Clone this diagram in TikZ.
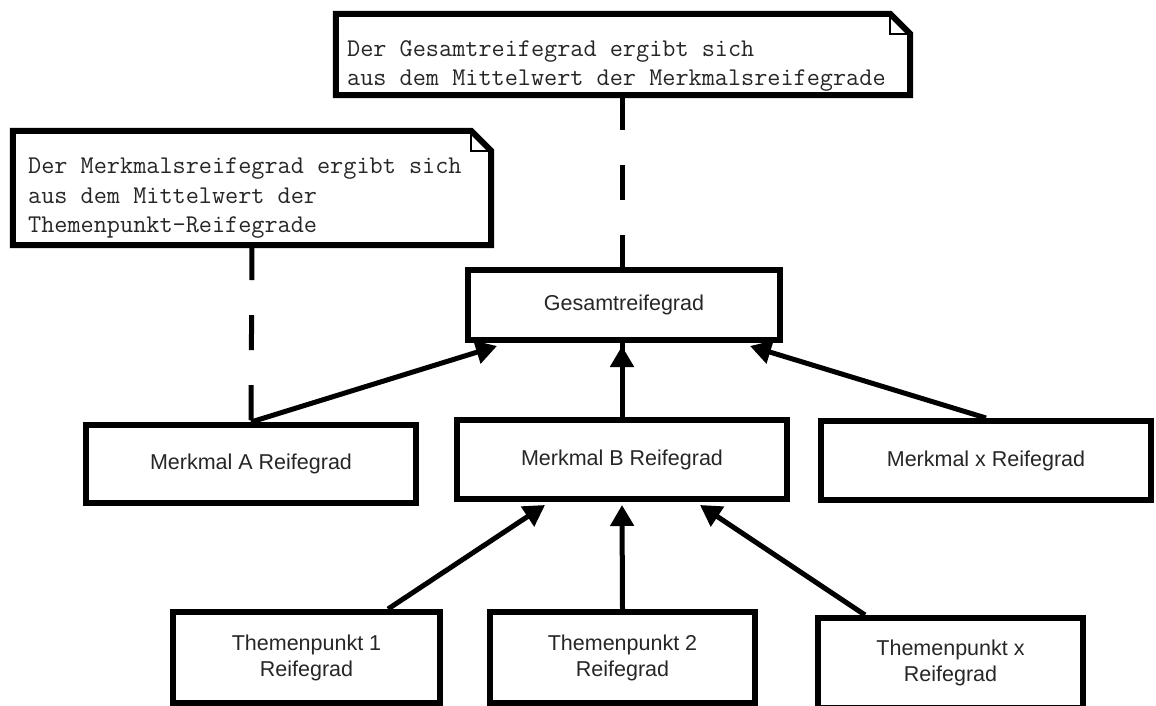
\documentclass[tikz,border=0pt]{standalone}
\usepackage{fontspec}
\setmainfont{Liberation Sans}
\usetikzlibrary{arrows.meta,calc}

\begin{document}
\begin{tikzpicture}[
  x=1pt, y=-1pt,
  box/.style={draw, line width=6pt, inner sep=0pt, align=center, text=black!85,
              font=\fontsize{21.5}{26}\selectfont},
  notebox/.style={inner sep=0pt},
  notebd/.style={line width=6pt, line join=miter},
  fold/.style={line width=2pt},
  notetxt/.style={anchor=north west, inner sep=0pt, align=left, text=black!85,
                  font=\ttfamily\fontsize{25.5}{29.5}\selectfont},
  arr/.style={line width=5pt, -{Triangle[length=21pt, width=23pt]}},
  dsh/.style={line width=5pt, dash pattern=on 35pt off 35pt}
]
\useasboundingbox (0,0) rectangle (1156,706);

% notes
\node[notebox, minimum width=574, minimum height=81] (n1) at (623,54.5) {};
\node[notebox, minimum width=478, minimum height=114] (n2) at (252,188) {};
\foreach \n in {n1, n2} {
  \draw[notebd] (\n.south west) -- (\n.north west) -- ($(\n.north east)+(-20,0)$)
    -- ($(\n.north east)+(0,20)$) -- (\n.south east) -- cycle;
  \draw[fold] ($(\n.north east)+(-20,0)$) |- ($(\n.north east)+(0,20)$);
}
\node[notetxt] (n1t) at (347,40) {Der Gesamtreifegrad ergibt sich\\aus dem Mittelwert der Merkmalsreifegrade};
\node[notetxt] (n2t) at (28,158) {Der Merkmalsreifegrad ergibt sich\\aus dem Mittelwert der\\Themenpunkt-Reifegrade};

% boxes
\node[box, minimum width=312, minimum height=70] (gesamt) at (624,305) {Gesamtreifegrad};
\node[box, minimum width=330, minimum height=78] (mA) at (251,464) {Merkmal A Reifegrad};
\node[box, minimum width=330, minimum height=79] (mB) at (622,459.5) {Merkmal B Reifegrad};
\node[box, minimum width=330, minimum height=79] (mX) at (986,460.5) {Merkmal x Reifegrad};
\node[box, minimum width=267, minimum height=91] (t1) at (306.5,657.5) {Themenpunkt 1\\Reifegrad};
\node[box, minimum width=265, minimum height=91] (t2) at (622.5,657.5) {Themenpunkt 2\\Reifegrad};
\node[box, minimum width=265, minimum height=90] (tX) at (950.5,663) {Themenpunkt x\\Reifegrad};

\draw[dsh] (n1.south -| gesamt.north) ++(-2,0) -- ($(gesamt.north)+(-2,0)$);
\draw[dsh] (n2.south) -- (mA.north);

\draw[arr] (mA.north) -- ($(gesamt.south west)+(32,3)$);
\draw[arr] (mB.north) -- (mB.north |- gesamt.south) ++(0,3);
\draw[arr] (mX.north) -- ($(gesamt.south east)+(-33,3)$);
\draw[arr] ($(t1.north east)+(-55,0)$) -- ($(mB.south west)+(91,3)$);
\draw[arr] (t2.north) -- ($(mB.south)+(0,3)$);
\draw[arr] ($(tX.north west)+(50,0)$) -- ($(mB.south east)+(-90,3)$);
\end{tikzpicture}
\end{document}
